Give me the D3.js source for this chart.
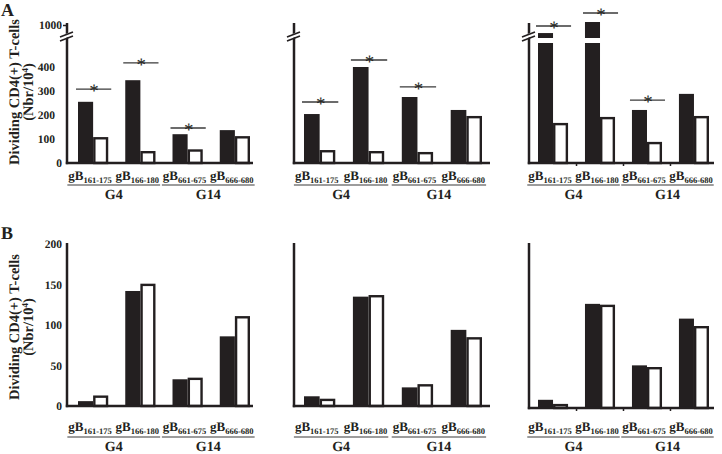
<!DOCTYPE html>
<html>
<head>
<meta charset="utf-8">
<script src="https://cdn.jsdelivr.net/npm/d3@7"></script>
<style>
body { margin: 0; background: #fff; }
text { font-family: "Liberation Serif", "Times New Roman", serif; font-weight: bold; fill: #231f20; text-rendering: geometricPrecision; }
</style>
</head>
<body>
<div id="chart"></div>
<script>
// values
const epitopes = ["161-175", "166-180", "661-675", "666-680"];
const groupNames = ["G4", "G14"];
const topTicks = [0, 100, 200, 300, 400, 1000];
const bottomTicks = [0, 50, 100, 150, 200];

const topFilled = [[255, 345, 120, 137], [204, 400, 275, 221], [938, 1023, 221, 288]];
const topOpen = [[108, 50, 57, 112], [54, 50, 46, 196], [167, 192, 88, 196]];
const topSig = [[308, 417, 146, null], [254, 429, 317, null], [992, 1092, 262, null]];

const bottomFilled = [[6, 142, 33, 86], [12, 135, 23, 94], [10, 127, 52, 109]];
const bottomOpen = [[13, 151, 35, 111], [9, 137, 27, 85], [5, 126, 50, 100]];

const ink = "#231f20";
const W = 722, H = 454;

const colAxisX = [67, 294, 529];
const colBarRange = [[78, 250], [304, 482], [538, 709]];
const colAxisEnd = [253, 490, 714];

const svg = d3.select("#chart")
    .append("svg")
    .attr("width", W)
    .attr("height", H);

// panel letters
svg.append("text").attr("x", 1).attr("y", 16).style("font-size", "18px").text("A");
svg.append("text").attr("x", 1).attr("y", 239).style("font-size", "18px").text("B");

// y axis titles
[92, 327].forEach(cy => {
    svg.append("text")
        .attr("transform", `translate(19,${cy}) rotate(-90)`)
        .attr("text-anchor", "middle")
        .style("font-size", "14.5px")
        .text("Dividing CD4(+) T-cells");
    const t2 = svg.append("text")
        .attr("transform", `translate(33,${cy}) rotate(-90)`)
        .attr("text-anchor", "middle")
        .style("font-size", "14.5px");
    t2.append("tspan").text("(Nbr/10");
    t2.append("tspan").attr("dy", -5).style("font-size", "9px").text("4");
    t2.append("tspan").attr("dy", 5).text(")");
});

function drawPanel(row, col) {
    const ax = colAxisX[col];
    const isTop = row === 0;
    const base = isTop ? 163 : [406, 406, 408][col];
    const axisTop = isTop ? 23 : 243;
    const filled = isTop ? topFilled[col] : bottomFilled[col];
    const open = isTop ? topOpen[col] : bottomOpen[col];

    const y = isTop
        ? d3.scaleLinear().domain([0, 500, 900, 1000]).range([base, 43, 38, 25])
        : d3.scaleLinear().domain([0, 200]).range([base, 244]);

    const x = d3.scaleBand().domain(epitopes).range(colBarRange[col]).paddingInner(0.36).paddingOuter(0);
    const xs = d3.scaleBand().domain([0, 1]).range([0, x.bandwidth()]);

    const g = svg.append("g");

    // bars
    epitopes.forEach((ep, i) => {
        const x0 = x(ep);
        g.append("rect")
            .attr("x", x0 + xs(0))
            .attr("y", y(filled[i]))
            .attr("width", xs.bandwidth())
            .attr("height", base - y(filled[i]))
            .attr("fill", ink);
        g.append("rect")
            .attr("x", x0 + xs(1) + 1.2)
            .attr("y", y(open[i]) + 1.2)
            .attr("width", xs.bandwidth() - 2.4)
            .attr("height", base - y(open[i]) - 1.2)
            .attr("fill", "#fff")
            .attr("stroke", ink)
            .attr("stroke-width", 2.4);
        // break in tall bars
        if (isTop && filled[i] > 500) {
            g.append("rect")
                .attr("x", x0 - 1)
                .attr("y", y(900))
                .attr("width", xs.bandwidth() + 2)
                .attr("height", y(500) - y(900))
                .attr("fill", "#fff");
        }
    });

    // axes
    g.append("line")
        .attr("x1", ax).attr("x2", ax)
        .attr("y1", axisTop).attr("y2", base + 1.2)
        .attr("stroke", ink).attr("stroke-width", 2.5);
    g.append("line")
        .attr("x1", ax - 1.2).attr("x2", colAxisEnd[col])
        .attr("y1", base).attr("y2", base)
        .attr("stroke", ink).attr("stroke-width", 2.5);

    if (col === 2) {
        [0.5, 1.5, 2.5].forEach(k => {
            const tx = x(epitopes[Math.floor(k)]) + x.bandwidth() + (x.step() - x.bandwidth()) / 2;
            g.append("line")
                .attr("x1", tx).attr("x2", tx)
                .attr("y1", base).attr("y2", base + 3)
                .attr("stroke", ink).attr("stroke-width", 1.5);
        });
    }

    // axis break
    if (isTop) {
        const by = 38;
        g.append("path")
            .attr("d", `M${ax - 6},${by + 2} L${ax + 6},${by - 3} L${ax + 6},${by - 7} L${ax - 6},${by - 2} Z`)
            .attr("fill", "#fff");
        g.append("line")
            .attr("x1", ax - 7).attr("y1", by + 3).attr("x2", ax + 6).attr("y2", by - 2)
            .attr("stroke", ink).attr("stroke-width", 1.6);
        g.append("line")
            .attr("x1", ax - 7).attr("y1", by - 1).attr("x2", ax + 6).attr("y2", by - 6)
            .attr("stroke", ink).attr("stroke-width", 1.6);
    }

    // tick labels (first column only)
    if (col === 0) {
        const yAxis = d3.axisLeft(y)
            .tickValues(isTop ? topTicks : bottomTicks)
            .tickFormat(d3.format("d"))
            .tickSize(0)
            .tickPadding(isTop ? 12 : 5);
        const ag = g.append("g")
            .attr("transform", `translate(${ax},0)`)
            .call(yAxis);
        ag.select(".domain").remove();
        ag.selectAll("text")
            .style("font-family", "'Liberation Serif', serif")
            .style("font-weight", "bold")
            .style("font-size", "11.5px")
            .attr("fill", ink);
        if (isTop) {
            ag.selectAll(".tick").filter(d => d === 0 || d === 1000)
                .select("text").attr("x", -5);
            ag.selectAll(".tick").filter(d => d === 1000)
                .append("line").attr("x1", -4).attr("x2", 0)
                .attr("stroke", ink).attr("stroke-width", 1.5);
        }
    }

    // significance bars
    if (isTop) {
        topSig[col].forEach((lv, i) => {
            if (lv === null) return;
            const x0 = x(epitopes[i]);
            const ly = y(lv);
            g.append("line")
                .attr("x1", x0 - 2).attr("x2", x0 + x.bandwidth() + 3)
                .attr("y1", ly).attr("y2", ly)
                .attr("stroke", "#3a3a3a").attr("stroke-width", 1.4);
            g.append("text")
                .attr("x", x0 + x.bandwidth() / 2 + 1)
                .attr("y", ly + 8)
                .attr("text-anchor", "middle")
                .style("font-size", "19px")
                .style("font-weight", "normal")
                .attr("fill", "#3a3a3a")
                .text("*");
        });
    }

    // x labels
    const lblY = isTop ? 180 : 431;
    const ulY = isTop ? 185 : 437;
    const grpY = isTop ? 199 : 451;
    const boxes = epitopes.map(ep => {
        const t = g.append("text")
            .attr("x", x(ep) + x.bandwidth() / 2 - 3)
            .attr("y", lblY)
            .attr("text-anchor", "middle")
            .style("font-size", "13px");
        t.append("tspan").text("gB");
        t.append("tspan").attr("dy", 3).style("font-size", "8.5px").text(ep);
        return t.node().getBBox();
    });
    groupNames.forEach((name, gi) => {
        const b0 = boxes[gi * 2], b1 = boxes[gi * 2 + 1];
        const x1 = b0.x - 1, x2 = b1.x + b1.width + 1;
        g.append("line")
            .attr("x1", x1).attr("x2", x2)
            .attr("y1", ulY).attr("y2", ulY)
            .attr("stroke", "#3a3a3a").attr("stroke-width", 1.2);
        g.append("text")
            .attr("x", (x1 + x2) / 2)
            .attr("y", grpY)
            .attr("text-anchor", "middle")
            .style("font-size", "14px")
            .text(name);
    });
}

[0, 1].forEach(row => [0, 1, 2].forEach(col => drawPanel(row, col)));
</script>
</body>
</html>
